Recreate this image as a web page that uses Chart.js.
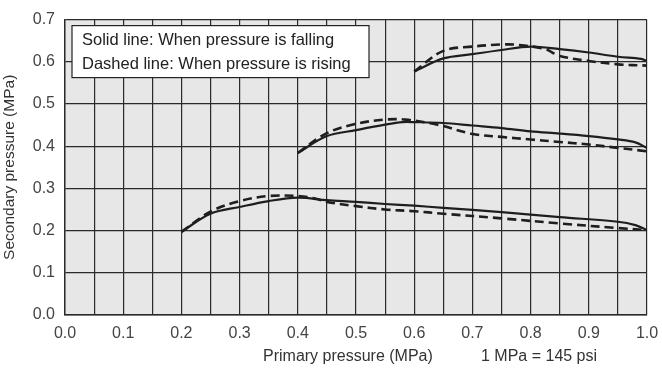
<!DOCTYPE html>
<html>
<head>
<meta charset="utf-8">
<script src="https://cdn.jsdelivr.net/npm/chart.js@4.4.1/dist/chart.umd.min.js"></script>
<style>
  body { margin: 0; background: #fff; }
  canvas { display: block; }
</style>
</head>
<body>
<canvas id="pressureChart" width="662" height="374"></canvas>
<script>
// tick labels
const xTickLabels = ['0.0', '0.1', '0.2', '0.3', '0.4', '0.5', '0.6', '0.7', '0.8', '0.9', '1.0'];
const yTickLabels = ['0.0', '0.1', '0.2', '0.3', '0.4', '0.5', '0.6', '0.7'];

// upper curve (set ~0.6 MPa)
const upperFallX = [0.6, 0.65, 0.7, 0.75, 0.8, 0.85, 0.9, 0.95, 0.99, 1.0];
const upperFallY = [0.577, 0.608, 0.618, 0.628, 0.636, 0.630, 0.622, 0.612, 0.607, 0.602];
const upperRiseX = [0.6, 0.65, 0.7, 0.75, 0.78, 0.825, 0.85, 0.9, 0.95, 1.0];
const upperRiseY = [0.577, 0.626, 0.636, 0.641, 0.640, 0.630, 0.614, 0.602, 0.594, 0.591];

// middle curve (set ~0.45 MPa)
const midFallX = [0.4, 0.45, 0.5, 0.55, 0.58, 0.6, 0.65, 0.7, 0.75, 0.8, 0.85, 0.9, 0.95, 0.98, 1.0];
const midFallY = [0.384, 0.424, 0.438, 0.451, 0.457, 0.457, 0.455, 0.449, 0.443, 0.435, 0.430, 0.424, 0.416, 0.409, 0.396];
const midRiseX = [0.4, 0.45, 0.5, 0.55, 0.585, 0.64, 0.7, 0.75, 0.8, 0.85, 0.9, 0.95, 1.0];
const midRiseY = [0.384, 0.431, 0.453, 0.463, 0.463, 0.451, 0.429, 0.422, 0.416, 0.410, 0.404, 0.396, 0.388];

// lower curve (set ~0.27 MPa)
const lowFallX = [0.2, 0.25, 0.3, 0.35, 0.4, 0.45, 0.5, 0.55, 0.6, 0.65, 0.75, 0.85, 0.95, 0.98, 1.0];
const lowFallY = [0.197, 0.240, 0.256, 0.270, 0.278, 0.272, 0.268, 0.263, 0.259, 0.254, 0.244, 0.232, 0.221, 0.213, 0.201];
const lowRiseX = [0.2, 0.25, 0.3, 0.35, 0.4, 0.43, 0.45, 0.5, 0.55, 0.6, 0.65, 0.75, 0.85, 0.95, 1.0];
const lowRiseY = [0.197, 0.245, 0.270, 0.282, 0.282, 0.276, 0.268, 0.258, 0.250, 0.246, 0.240, 0.229, 0.217, 0.206, 0.201];

const legendLines = ['Solid line: When pressure is falling', 'Dashed line: When pressure is rising'];
const xTitle = 'Primary pressure (MPa)';
const xNote = '1 MPa = 145 psi';
const yTitle = 'Secondary pressure (MPa)';

const FONT = '"Liberation Sans", Arial, sans-serif';

function toPoints(xs, ys) {
  return xs.map((x, i) => ({ x: x, y: ys[i] }));
}

function makeSeries(xs, ys, dashed) {
  return {
    data: toPoints(xs, ys),
    showLine: true,
    borderColor: '#1e1e1e',
    borderWidth: dashed ? 2.6 : 2.2,
    borderDash: dashed ? [9, 5] : [],
    pointRadius: 0,
    tension: 0.35,
    fill: false
  };
}

// grey plot background + note box + x title
const decorations = {
  id: 'decorations',
  beforeDraw(chart) {
    const a = chart.chartArea;
    const ctx = chart.ctx;
    ctx.save();
    ctx.fillStyle = '#e7e7e7';
    ctx.fillRect(a.left, a.top, a.right - a.left, a.bottom - a.top);
    ctx.restore();
  },
  afterDraw(chart) {
    const a = chart.chartArea;
    const ctx = chart.ctx;
    ctx.save();
    // note box
    ctx.fillStyle = '#ffffff';
    ctx.strokeStyle = '#222';
    ctx.lineWidth = 1.2;
    ctx.fillRect(a.left + 7, a.top + 6, 297, 52);
    ctx.strokeRect(a.left + 7, a.top + 6, 297, 52);
    ctx.fillStyle = '#222';
    ctx.font = '16.5px ' + FONT;
    ctx.textBaseline = 'middle';
    ctx.textAlign = 'left';
    ctx.fillText(legendLines[0], a.left + 17, a.top + 21);
    ctx.fillText(legendLines[1], a.left + 17, a.top + 45);
    // x axis title
    ctx.fillStyle = '#333';
    ctx.font = '16px ' + FONT;
    ctx.fillText(xTitle, 263, 357);
    ctx.fillText(xNote, 481, 357);
    ctx.restore();
  }
};

const ctx = document.getElementById('pressureChart').getContext('2d');
new Chart(ctx, {
  type: 'scatter',
  data: {
    datasets: [
      makeSeries(upperFallX, upperFallY, false),
      makeSeries(upperRiseX, upperRiseY, true),
      makeSeries(midFallX, midFallY, false),
      makeSeries(midRiseX, midRiseY, true),
      makeSeries(lowFallX, lowFallY, false),
      makeSeries(lowRiseX, lowRiseY, true)
    ]
  },
  options: {
    responsive: false,
    animation: false,
    devicePixelRatio: 1,
    layout: { padding: { top: 16, right: 15, left: 0, bottom: 0 } },
    plugins: {
      legend: { display: false },
      tooltip: { enabled: false }
    },
    scales: {
      x: {
        type: 'linear',
        min: 0,
        max: 1,
        afterFit: (scale) => {
          scale.height = 59;
          scale.paddingLeft = 0;
          scale.paddingRight = 0;
        },
        afterBuildTicks: (scale) => {
          const t = [];
          for (let i = 0; i <= 20; i++) t.push({ value: i * 0.05 });
          scale.ticks = t;
        },
        ticks: {
          autoSkip: false,
          maxRotation: 0,
          padding: 9,
          color: '#444',
          font: { family: FONT, size: 16 },
          callback: (value, index) => (index % 2 === 0 ? xTickLabels[index / 2] : '')
        },
        grid: { color: '#2a2a2a', lineWidth: 1.2, drawTicks: false },
        border: { color: '#2a2a2a', width: 1.4 }
      },
      y: {
        type: 'linear',
        min: 0,
        max: 0.7,
        afterFit: (scale) => { scale.width = 65; },
        afterBuildTicks: (scale) => {
          scale.ticks = yTickLabels.map((l, i) => ({ value: i * 0.1 }));
        },
        ticks: {
          padding: 10,
          color: '#444',
          font: { family: FONT, size: 16 },
          callback: (value, index) => yTickLabels[index]
        },
        title: {
          display: true,
          text: yTitle,
          color: '#333',
          font: { family: FONT, size: 15.5 },
          padding: { top: 0, bottom: 0 }
        },
        grid: { color: '#2a2a2a', lineWidth: 1.2, drawTicks: false },
        border: { color: '#2a2a2a', width: 1.4 }
      }
    }
  },
  plugins: [decorations]
});
</script>
</body>
</html>
